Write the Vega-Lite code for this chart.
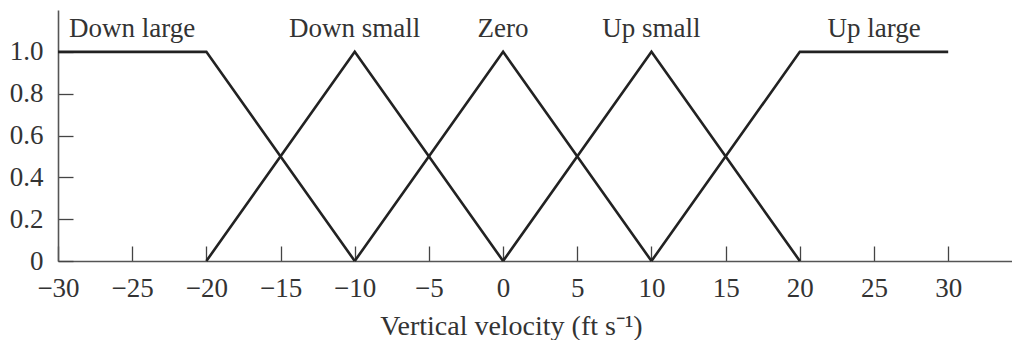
{
  "$schema": "https://vega.github.io/schema/vega-lite/v6.json",
  "width": 954,
  "height": 251,
  "autosize": {"type": "none"},
  "padding": {"left": 58, "top": 10, "right": 0, "bottom": 79},
  "background": "white",
  "config": {
    "view": {"stroke": null},
    "font": "Liberation Serif",
    "axis": {
      "grid": false,
      "domainColor": "#555",
      "domainWidth": 1.6,
      "tickColor": "#444",
      "tickWidth": 1.3,
      "tickSize": -15,
      "labelFont": "Liberation Serif",
      "labelFontSize": 27,
      "labelColor": "#333",
      "titleFont": "Liberation Serif",
      "titleFontSize": 28,
      "titleFontWeight": "normal",
      "titleColor": "#333"
    }
  },
  "layer": [
    {
      "data": {
        "values": [
          {"set": "Down large", "v": -30, "m": 1},
          {"set": "Down large", "v": -20, "m": 1},
          {"set": "Down large", "v": -10, "m": 0},
          {"set": "Down small", "v": -20, "m": 0},
          {"set": "Down small", "v": -10, "m": 1},
          {"set": "Down small", "v": 0, "m": 0},
          {"set": "Zero", "v": -10, "m": 0},
          {"set": "Zero", "v": 0, "m": 1},
          {"set": "Zero", "v": 10, "m": 0},
          {"set": "Up small", "v": 0, "m": 0},
          {"set": "Up small", "v": 10, "m": 1},
          {"set": "Up small", "v": 20, "m": 0},
          {"set": "Up large", "v": 10, "m": 0},
          {"set": "Up large", "v": 20, "m": 1},
          {"set": "Up large", "v": 30, "m": 1}
        ]
      },
      "mark": {"type": "line", "color": "#222", "strokeWidth": 2.6, "strokeJoin": "miter", "clip": false},
      "encoding": {
        "x": {
          "field": "v", "type": "quantitative",
          "scale": {"domain": [-30, 34.3], "nice": false, "zero": false},
          "axis": {
            "values": [-30, -25, -20, -15, -10, -5, 0, 5, 10, 15, 20, 25, 30],
            "labelPadding": 29,
            "labelFlush": false,
            "labelOverlap": false,
            "title": "Vertical velocity (ft s⁻¹)",
            "titleX": 453,
            "titleY": 73,
            "titleBaseline": "alphabetic"
          }
        },
        "y": {
          "field": "m", "type": "quantitative",
          "scale": {"domain": [0, 1.2], "nice": false},
          "axis": {
            "values": [0, 0.2, 0.4, 0.6, 0.8, 1.0],
            "labelExpr": "datum.value == 0 ? '0' : format(datum.value, '.1f')",
            "labelPadding": 30,
            "labelBaseline": "middle",
            "labelFlush": false,
            "labelOverlap": false,
            "title": null
          }
        },
        "detail": {"field": "set"},
        "order": {"field": "v"}
      }
    },
    {
      "data": {
        "values": [
          {"label": "Down large", "v": -25, "m": 1.072},
          {"label": "Down small", "v": -10, "m": 1.072},
          {"label": "Zero", "v": 0, "m": 1.072},
          {"label": "Up small", "v": 10, "m": 1.072},
          {"label": "Up large", "v": 25, "m": 1.072}
        ]
      },
      "mark": {"type": "text", "font": "Liberation Serif", "fontSize": 27, "color": "#333", "baseline": "alphabetic", "align": "center"},
      "encoding": {
        "x": {"field": "v", "type": "quantitative"},
        "y": {"field": "m", "type": "quantitative"},
        "text": {"field": "label"}
      }
    }
  ]
}
